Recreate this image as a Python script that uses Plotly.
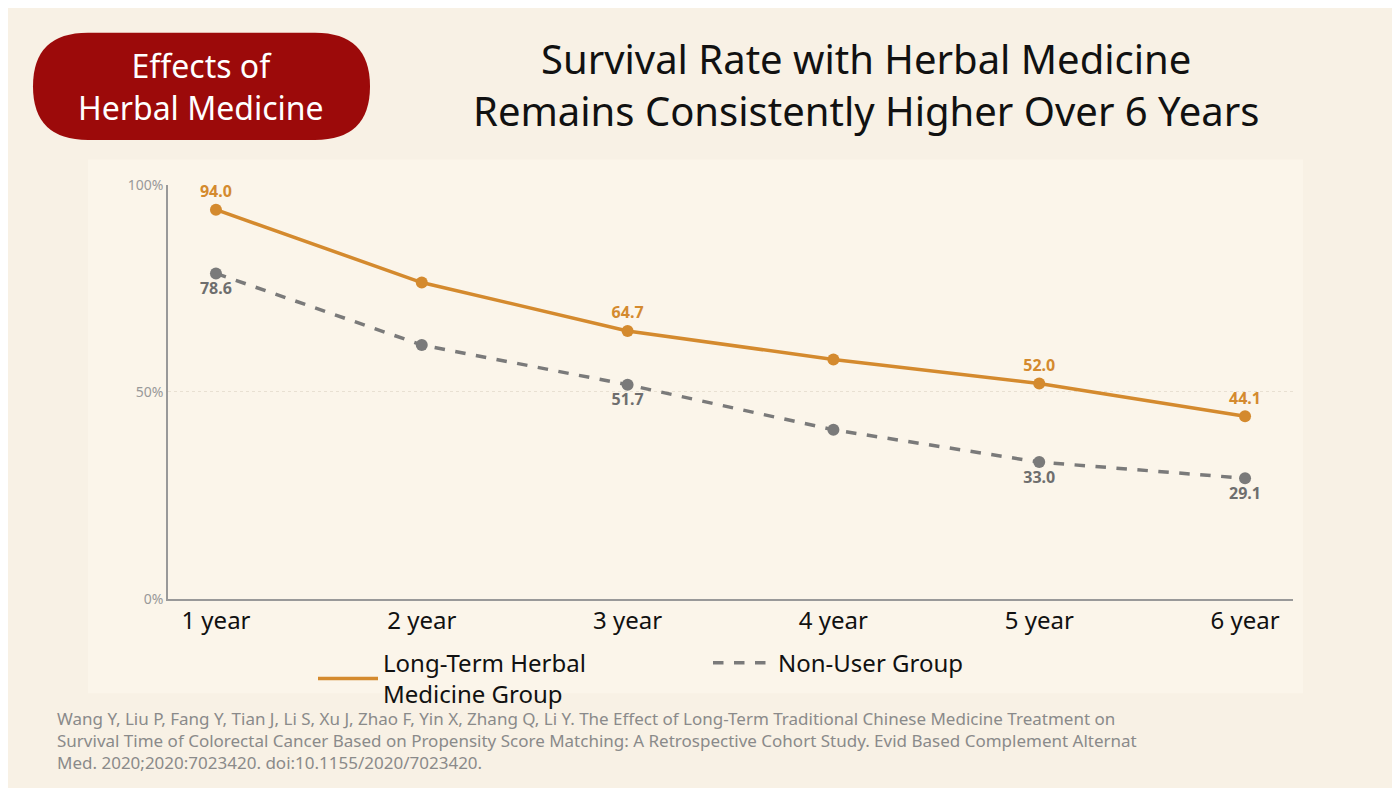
import plotly.graph_objects as go

years = ["1 year", "2 year", "3 year", "4 year", "5 year", "6 year"]
herbal = [94.0, 76.4, 64.7, 57.8, 52.0, 44.1]
nonuser = [78.6, 61.3, 51.7, 40.8, 33.0, 29.1]
herbal_labels = ["<b>94.0</b>", "", "<b>64.7</b>", "", "<b>52.0</b>", "<b>44.1</b>"]
nonuser_labels = ["<b>78.6</b>", "", "<b>51.7</b>", "", "<b>33.0</b>", "<b>29.1</b>"]

W, H = 1400, 788
px = lambda x: x / W
py = lambda y: 1 - y / H

fig = go.Figure()
fig.add_trace(go.Scatter(
    x=years, y=herbal, showlegend=False,
    mode="lines+markers+text", text=herbal_labels, textposition="top center",
    textfont=dict(color="#d48a2e", size=16, family="Noto Sans"),
    line=dict(color="#d48a2e", width=3.5), marker=dict(size=12, color="#d48a2e"),
    cliponaxis=False))
fig.add_trace(go.Scatter(
    x=years, y=nonuser, showlegend=False,
    mode="lines+markers+text", text=nonuser_labels, textposition="bottom center",
    textfont=dict(color="#6e6e6e", size=16, family="Noto Sans"),
    line=dict(color="#7a7a7a", width=3.5, dash="dash"), marker=dict(size=12, color="#7a7a7a"),
    cliponaxis=False))
# legend-only entries (lines without markers)
fig.add_trace(go.Scatter(x=[None], y=[None], mode="lines",
                         name="Long-Term Herbal<br>Medicine Group",
                         line=dict(color="#d48a2e", width=3.5)))
fig.add_trace(go.Scatter(x=[None], y=[None], mode="lines", name="Non-User Group",
                         line=dict(color="#7a7a7a", width=3.5, dash="dash")))

# rounded badge
x0, x1, y0, y1 = px(25), px(362), py(125), py(15)
rx, ry = px(55), 55 / H
badge = (f"M {x0+rx},{y0} L {x1-rx},{y0} Q {x1},{y0} {x1},{y0+ry} L {x1},{y1-ry} "
         f"Q {x1},{y1} {x1-rx},{y1} L {x0+rx},{y1} Q {x0},{y1} {x0},{y1-ry} "
         f"L {x0},{y0+ry} Q {x0},{y0} {x0+rx},{y0} Z")

fig.update_layout(
    width=W, height=H, margin=dict(l=0, r=0, t=0, b=0),
    paper_bgcolor="#f8f1e5", plot_bgcolor="rgba(0,0,0,0)",
    font=dict(family="Noto Sans"),
    showlegend=True,
    legend=dict(orientation="h", x=0.5, xanchor="center", y=py(677), yanchor="middle",
                font=dict(size=24, color="#111"), bgcolor="rgba(0,0,0,0)",
                itemwidth=60, entrywidth=320),
    xaxis=dict(domain=[px(160), px(1285)], range=[-0.233, 5.233],
               showline=True, linecolor="#999", linewidth=1.5, showgrid=False,
               tickfont=dict(size=24, color="#111"), ticks=""),
    yaxis=dict(domain=[py(595), py(171)], range=[0, 100],
               tickvals=[0, 50, 100], ticktext=["0%", "50%", "100%"],
               tickfont=dict(size=14, color="#999"), showline=True, linecolor="#999",
               linewidth=1.5, gridcolor="#e8e0d2", griddash="dot", zeroline=False),
    shapes=[
        dict(type="rect", xref="paper", yref="paper", x0=px(80), x1=px(1295),
             y0=py(692), y1=py(145), fillcolor="#fbf5ea", line=dict(width=0), layer="below"),
        dict(type="path", xref="paper", yref="paper", path=badge,
             fillcolor="#9c0a0a", line=dict(width=0)),
    ],
    annotations=[
        dict(xref="paper", yref="paper", x=px(193), y=py(70), xanchor="center",
             yanchor="middle", showarrow=False,
             text="Effects of<br>Herbal Medicine", font=dict(size=32, color="white")),
        dict(xref="paper", yref="paper", x=px(858), y=py(68), xanchor="center",
             yanchor="middle", showarrow=False,
             text="Survival Rate with Herbal Medicine<br>Remains Consistently Higher Over 6 Years",
             font=dict(size=40, color="#111")),
        dict(xref="paper", yref="paper", x=px(47), y=py(740), xanchor="left",
             yanchor="middle", showarrow=False, align="left",
             text="Wang Y, Liu P, Fang Y, Tian J, Li S, Xu J, Zhao F, Yin X, Zhang Q, Li Y. The Effect of Long-Term Traditional Chinese Medicine Treatment on<br>"
                  "Survival Time of Colorectal Cancer Based on Propensity Score Matching: A Retrospective Cohort Study. Evid Based Complement Alternat<br>"
                  "Med. 2020;2020:7023420. doi:10.1155/2020/7023420.",
             font=dict(size=17, color="#8a8a8a")),
    ],
)

fig.write_html("out.html")
